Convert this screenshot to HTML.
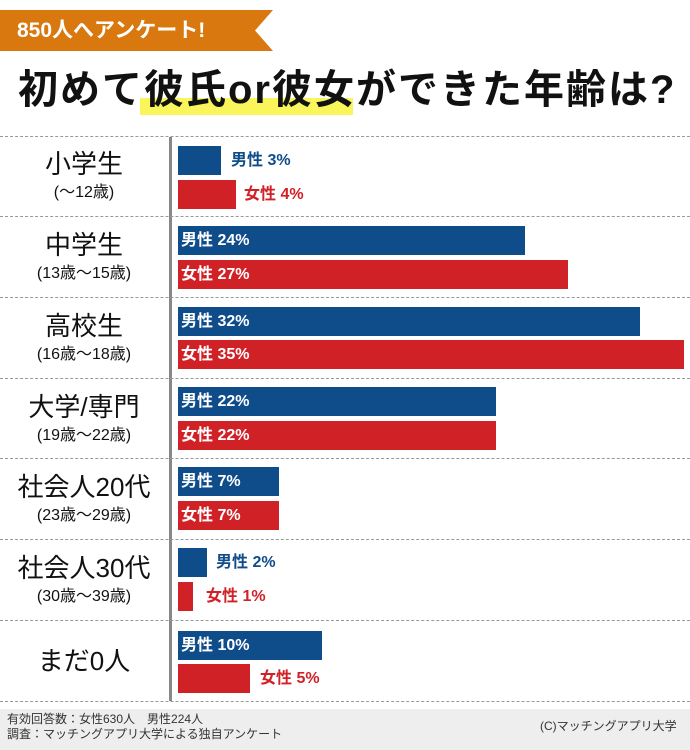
<!DOCTYPE html>
<html><head><meta charset="utf-8"><style>
*{margin:0;padding:0;box-sizing:border-box}
body{width:690px;height:750px;background:#fff;position:relative;overflow:hidden;font-family:"Liberation Sans","Noto Sans CJK JP",sans-serif}
.a{position:absolute}
.sep{position:absolute;left:0;width:690px;border-top:1px dashed #999;height:0}
.bar{position:absolute;left:178px;height:29px}
.m{background:#0f4c8a}.f{background:#d02127}
.lab{position:absolute;font-weight:bold;font-size:16px;line-height:29px;white-space:nowrap}
.in{color:#fff;left:181px}
.om{color:#0f4c8a}.of{color:#d02127}
.cat{position:absolute;left:0;width:168px;text-align:center;color:#111}
.cat .t{font-size:26px;line-height:32px}
.cat .s{font-size:16px;line-height:26px}
</style></head><body>
<svg class="a" style="left:0;top:10px" width="275" height="42"><polygon points="0,0 273,0 255,20.5 273,41 0,41" fill="#d8780f"/></svg>
<div class="a" style="left:17px;top:12px;color:#fff;font-size:21px;line-height:38px;font-weight:bold">850人へアンケート!</div>
<div class="a" style="left:140px;top:98px;width:213px;height:17px;background:#faf55a"></div>
<div class="a" style="left:18px;top:62px;font-size:40px;font-weight:bold;line-height:56px;color:#111;letter-spacing:2px;white-space:nowrap">初めて彼氏or彼女ができた年齢は?</div>

<div class="a" style="left:169px;top:137px;width:3px;height:564px;background:#888"></div>

<div class="sep" style="top:136px"></div>
<div class="sep" style="top:216px"></div>
<div class="sep" style="top:297px"></div>
<div class="sep" style="top:378px"></div>
<div class="sep" style="top:458px"></div>
<div class="sep" style="top:539px"></div>
<div class="sep" style="top:620px"></div>
<div class="sep" style="top:701px"></div>

<div class="cat" style="top:148px"><div class="t">小学生</div><div class="s">(〜12歳)</div></div>
<div class="cat" style="top:229px"><div class="t">中学生</div><div class="s">(13歳〜15歳)</div></div>
<div class="cat" style="top:310px"><div class="t">高校生</div><div class="s">(16歳〜18歳)</div></div>
<div class="cat" style="top:391px"><div class="t">大学/専門</div><div class="s">(19歳〜22歳)</div></div>
<div class="cat" style="top:471px"><div class="t">社会人20代</div><div class="s">(23歳〜29歳)</div></div>
<div class="cat" style="top:552px"><div class="t">社会人30代</div><div class="s">(30歳〜39歳)</div></div>
<div class="cat" style="top:645px"><div class="t">まだ0人</div></div>

<div class="bar m" style="top:146px;width:43px"></div><div class="lab om" style="top:146px;left:231px">男性 3%</div>
<div class="bar f" style="top:180px;width:58px"></div><div class="lab of" style="top:180px;left:244px">女性 4%</div>
<div class="bar m" style="top:226px;width:347px"></div><div class="lab in" style="top:226px">男性 24%</div>
<div class="bar f" style="top:260px;width:390px"></div><div class="lab in" style="top:260px">女性 27%</div>
<div class="bar m" style="top:307px;width:462px"></div><div class="lab in" style="top:307px">男性 32%</div>
<div class="bar f" style="top:340px;width:506px"></div><div class="lab in" style="top:340px">女性 35%</div>
<div class="bar m" style="top:387px;width:318px"></div><div class="lab in" style="top:387px">男性 22%</div>
<div class="bar f" style="top:421px;width:318px"></div><div class="lab in" style="top:421px">女性 22%</div>
<div class="bar m" style="top:467px;width:101px"></div><div class="lab in" style="top:467px">男性 7%</div>
<div class="bar f" style="top:501px;width:101px"></div><div class="lab in" style="top:501px">女性 7%</div>
<div class="bar m" style="top:548px;width:29px"></div><div class="lab om" style="top:548px;left:216px">男性 2%</div>
<div class="bar f" style="top:582px;width:15px"></div><div class="lab of" style="top:582px;left:206px">女性 1%</div>
<div class="bar m" style="top:631px;width:144px"></div><div class="lab in" style="top:631px">男性 10%</div>
<div class="bar f" style="top:664px;width:72px"></div><div class="lab of" style="top:664px;left:260px">女性 5%</div>

<div class="a" style="left:0;top:709px;width:690px;height:41px;background:#eee"></div>
<div class="a" style="left:7px;top:712px;font-size:12px;line-height:15px;color:#333">有効回答数：女性630人　男性224人<br>調査：マッチングアプリ大学による独自アンケート</div>
<div class="a" style="left:540px;top:719px;font-size:12px;line-height:15px;color:#333">(C)マッチングアプリ大学</div>
</body></html>
